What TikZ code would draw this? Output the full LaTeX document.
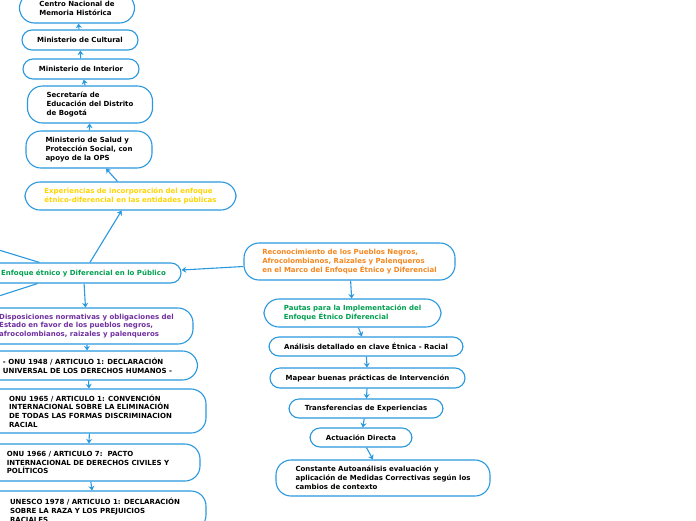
\documentclass[tikz,border=0pt]{standalone}
\usepackage{fontspec}
\setmainfont{DejaVu Sans}
\usetikzlibrary{arrows.meta}

\definecolor{azulborde}{RGB}{41,152,222}
\definecolor{amarillo}{RGB}{255,212,0}
\definecolor{verde}{RGB}{0,160,80}
\definecolor{morado}{RGB}{112,48,160}
\definecolor{naranja}{RGB}{245,135,30}

\tikzset{
  caja/.style={draw=azulborde, line width=1.1pt, rounded corners=10pt, fill=white,
    align=left, inner sep=0.75pt, font=\fontsize{7}{8.8}\selectfont\bfseries},
  cajagrande/.style={caja, rounded corners=15pt},
  flecha/.style={draw=azulborde, line width=1.1pt, -{Stealth[length=4.5pt,width=6pt]}},
  linea/.style={draw=azulborde, line width=1.1pt}
}

\begin{document}
\begin{tikzpicture}[x=1pt,y=1pt,yscale=-1]
\useasboundingbox (0,0) rectangle (696,520);

%Left column, upper part
% Text Node
\node (centro) [cajagrande, minimum width=115, minimum height=30] at (77,8) {Centro Nacional de\\Memoria Histórica};
% Text Node
\node (cultura) [caja, minimum width=116, minimum height=20] at (80,40) {Ministerio de Cultural};
% Text Node
\node (interior) [caja, minimum width=116, minimum height=20] at (81,69) {Ministerio de Interior};
% Text Node
\node (secretaria) [cajagrande, minimum width=125, minimum height=37] at (90,104.5) {Secretaría de\\Educación del Distrito\\de Bogotá};
% Text Node
\node (salud) [cajagrande, minimum width=126, minimum height=37] at (89,149.5) {Ministerio de Salud y\\Protección Social, con\\apoyo de la OPS};
% Text Node
\node (experiencias) [cajagrande, minimum width=211, minimum height=28, text=amarillo] at (130.5,196) {Experiencias de incorporación del enfoque\\étnico-diferencial en las entidades públicas};

%Central node
% Text Node
\node (enfoque) [caja, minimum width=195, minimum height=20, text=verde] at (83.5,273) {Enfoque étnico y Diferencial en lo Público};

%Left column, lower part
% Text Node
\node (disposiciones) [cajagrande, minimum width=213, minimum height=36, text=morado] at (86.5,326) {Disposiciones normativas y obligaciones del\\Estado en favor de los pueblos negros,\\afrocolombianos, raizales y palenqueros};
% Text Node
\node (onu48) [cajagrande, minimum width=220, minimum height=29] at (87.5,365.5) {- ONU 1948 / ARTICULO 1: DECLARACIÓN\\UNIVERSAL DE LOS DERECHOS HUMANOS -};
% Text Node
\node (onu65) [cajagrande, minimum width=231, minimum height=44] at (90.5,411) {ONU 1965 / ARTICULO 1: CONVENCIÓN\\INTERNACIONAL SOBRE LA ELIMINACIÓN\\DE TODAS LAS FORMAS DISCRIMINACION\\RACIAL};
% Text Node
\node (onu66) [cajagrande, minimum width=224, minimum height=37] at (88,462.5) {ONU 1966 / ARTICULO 7:\ \ PACTO\\INTERNACIONAL DE DERECHOS CIVILES Y\\POLÍTICOS};
% Text Node
\node (unesco) [cajagrande, minimum width=222, minimum height=39] at (95,510.5) {UNESCO 1978 / ARTICULO 1: DECLARACIÓN\\SOBRE LA RAZA Y LOS PREJUICIOS\\RACIALES};

%Right column
% Text Node
\node (reconocimiento) [cajagrande, minimum width=211, minimum height=37, text=naranja] at (349.5,261.5) {Reconocimiento de los Pueblos Negros,\\Afrocolombianos, Raizales y Palenqueros\\en el Marco del Enfoque Étnico y Diferencial};
% Text Node
\node (pautas) [cajagrande, minimum width=177, minimum height=28, text=verde] at (352.5,313) {Pautas para la Implementación del\\Enfoque Étnico Diferencial};
% Text Node
\node (analisis) [caja, minimum width=194, minimum height=19] at (366,346.5) {Análisis detallado en clave Étnica - Racial};
% Text Node
\node (mapear) [caja, minimum width=195, minimum height=20] at (367.5,378) {Mapear buenas prácticas de Intervención};
% Text Node
\node (transferencias) [caja, minimum width=154, minimum height=19] at (366,408.5) {Transferencias de Experiencias};
% Text Node
\node (actuacion) [caja, minimum width=102, minimum height=19] at (361,437.5) {Actuación Directa};
% Text Node
\node (constante) [cajagrande, minimum width=214, minimum height=36] at (383,478) {Constante Autoanálisis evaluación y\\aplicación de Medidas Correctivas según los\\cambios de contexto};

%Off-screen ends
\coordinate (fuera1) at (-60,232);
\coordinate (fuera2) at (-60,315);

%Connectors
\draw [flecha] (cultura) -- (centro);
\draw [flecha] (interior) -- (cultura);
\draw [flecha] (secretaria) -- (interior);
\draw [flecha] (salud) -- (secretaria);
\draw [flecha] (experiencias) -- (salud);
\draw [flecha] (enfoque) -- (experiencias);
\draw [flecha] ([yshift=5pt]reconocimiento.west) -- ([yshift=-3pt]enfoque.east);
\draw [linea] (fuera1) -- ([xshift=-44pt]enfoque.north);
\draw [linea] (fuera2) -- ([xshift=-46pt]enfoque.south);
\draw [flecha] (enfoque) -- (disposiciones);
\draw [flecha] (disposiciones) -- (onu48);
\draw [flecha] (onu48) -- (onu65);
\draw [flecha] (onu65) -- (onu66);
\draw [flecha] (onu66) -- (unesco);
\draw [flecha] (reconocimiento) -- (pautas);
\draw [flecha] (pautas) -- (analisis);
\draw [flecha] (analisis) -- (mapear);
\draw [flecha] (mapear) -- (transferencias);
\draw [flecha] (transferencias) -- (actuacion);
\draw [flecha] (actuacion) -- (constante);

\end{tikzpicture}
\end{document}
